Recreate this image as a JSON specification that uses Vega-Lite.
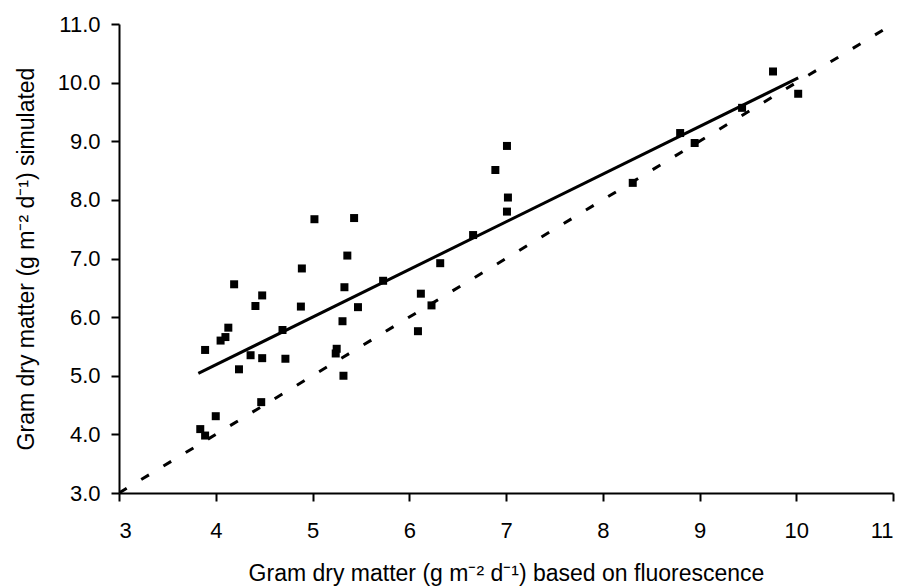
{
  "$schema": "https://vega.github.io/schema/vega-lite/v6.json",
  "width": 774,
  "height": 469,
  "autosize": {"type": "none"},
  "padding": {"left": 119, "top": 24, "right": 13, "bottom": 94},
  "background": "white",
  "config": {
    "view": {"stroke": null},
    "font": "Liberation Sans",
    "axis": {
      "grid": false,
      "domainColor": "black",
      "domainWidth": 2,
      "tickColor": "black",
      "tickWidth": 2,
      "tickSize": 8,
      "labelColor": "black",
      "labelFont": "Liberation Sans",
      "labelFontSize": 22,
      "titleFont": "Liberation Sans",
      "titleFontSize": 23,
      "titleFontWeight": "normal",
      "titleColor": "black"
    }
  },
  "datasets": {
    "points": [
      {"x": 3.84, "y": 4.09}, {"x": 3.89, "y": 3.98}, {"x": 3.89, "y": 5.44},
      {"x": 4.00, "y": 4.31}, {"x": 4.05, "y": 5.60}, {"x": 4.10, "y": 5.66},
      {"x": 4.13, "y": 5.82}, {"x": 4.19, "y": 6.56}, {"x": 4.24, "y": 5.11},
      {"x": 4.36, "y": 5.35}, {"x": 4.41, "y": 6.19}, {"x": 4.48, "y": 5.30},
      {"x": 4.47, "y": 4.55}, {"x": 4.48, "y": 6.37}, {"x": 4.69, "y": 5.78},
      {"x": 4.72, "y": 5.29}, {"x": 4.89, "y": 6.83}, {"x": 4.88, "y": 6.18},
      {"x": 5.02, "y": 7.67}, {"x": 5.24, "y": 5.38}, {"x": 5.25, "y": 5.46},
      {"x": 5.31, "y": 5.93}, {"x": 5.32, "y": 5.00}, {"x": 5.33, "y": 6.51},
      {"x": 5.36, "y": 7.05}, {"x": 5.43, "y": 7.69}, {"x": 5.47, "y": 6.17},
      {"x": 5.73, "y": 6.62}, {"x": 6.09, "y": 5.76}, {"x": 6.12, "y": 6.40},
      {"x": 6.23, "y": 6.20}, {"x": 6.32, "y": 6.92}, {"x": 6.66, "y": 7.40},
      {"x": 6.89, "y": 8.51}, {"x": 7.01, "y": 8.92}, {"x": 7.02, "y": 8.04},
      {"x": 7.01, "y": 7.80}, {"x": 8.31, "y": 8.29}, {"x": 8.80, "y": 9.14},
      {"x": 8.95, "y": 8.97}, {"x": 9.44, "y": 9.57}, {"x": 9.76, "y": 10.19},
      {"x": 10.02, "y": 9.81}
    ],
    "identity": [{"x": 3, "y": 3}, {"x": 11, "y": 11}],
    "fit": [{"x": 3.82, "y": 5.04}, {"x": 10.02, "y": 10.08}]
  },
  "layer": [
    {
      "data": {"name": "identity"},
      "mark": {"type": "line", "color": "black", "strokeWidth": 3, "strokeDash": [9, 17], "clip": true},
      "encoding": {
        "x": {
          "field": "x", "type": "quantitative",
          "scale": {"domain": [3, 11], "nice": false, "zero": false},
          "axis": {
            "values": [3, 4, 5, 6, 7, 8, 9, 10, 11],
            "format": "d",
            "labelPadding": 19,
            "title": "Gram dry matter (g m⁻² d⁻¹) based on fluorescence",
            "titlePadding": 21
          }
        },
        "y": {
          "field": "y", "type": "quantitative",
          "scale": {"domain": [3, 11], "nice": false, "zero": false},
          "axis": {
            "values": [3, 4, 5, 6, 7, 8, 9, 10, 11],
            "format": ".1f",
            "labelPadding": 11,
            "title": "Gram dry matter (g m⁻² d⁻¹) simulated",
            "titlePadding": 19
          }
        }
      }
    },
    {
      "data": {"name": "fit"},
      "mark": {"type": "line", "color": "black", "strokeWidth": 3},
      "encoding": {
        "x": {"field": "x", "type": "quantitative"},
        "y": {"field": "y", "type": "quantitative"}
      }
    },
    {
      "data": {"name": "points"},
      "mark": {"type": "square", "color": "black", "filled": true, "opacity": 1, "size": 64},
      "encoding": {
        "x": {"field": "x", "type": "quantitative"},
        "y": {"field": "y", "type": "quantitative"}
      }
    }
  ]
}
